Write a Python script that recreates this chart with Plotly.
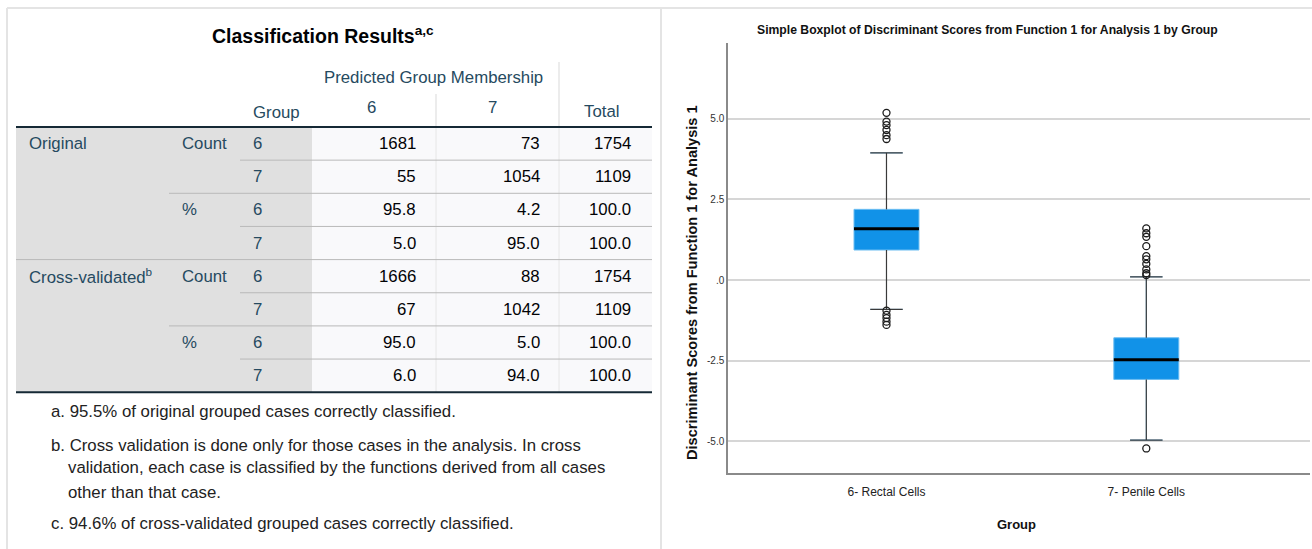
import plotly.graph_objects as go

# ---------------- data ----------------
# Classification table (rows: Original Count 6/7, Original % 6/7, Cross-validated Count 6/7, Cross-validated % 6/7)
row_groups = ["Original", "Cross-validated<sup>b</sup>"]
stat_labels = ["Count", "%"]
group_labels = ["6", "7"]
predicted_6 = [1681, 55, 95.8, 5.0, 1666, 67, 95.0, 6.0]
predicted_7 = [73, 1054, 4.2, 95.0, 88, 1042, 5.0, 94.0]
row_totals = [1754, 1109, 100.0, 100.0, 1754, 1109, 100.0, 100.0]
row_is_count = [True, True, False, False, True, True, False, False]

footnotes = [
    "a. 95.5% of original grouped cases correctly classified.",
    "b. Cross validation is done only for those cases in the analysis. In cross",
    "validation, each case is classified by the functions derived from all cases",
    "other than that case.",
    "c. 94.6% of cross-validated grouped cases correctly classified.",
]

# Boxplot summary statistics for discriminant scores (function 1)
box_groups = ["6- Rectal Cells", "7- Penile Cells"]
box_lowerfence = [-0.91, -4.96]
box_q1 = [0.93, -3.08]
box_median = [1.59, -2.47]
box_q3 = [2.19, -1.79]
box_upperfence = [3.94, 0.10]
outliers_rectal = [5.18, 4.91, 4.80, 4.65, 4.49, 4.37, -0.95, -1.08, -1.18, -1.29, -1.39]
outliers_penile = [1.60, 1.45, 1.34, 1.05, 0.74, 0.64, 0.50, 0.33, 0.21, 0.15, -5.22]
y_tickvals = [-5.0, -2.5, 0.0, 2.5, 5.0]
y_ticktext = ["-5.0", "-2.5", ".0", "2.5", "5.0"]

# ---------------- page geometry helpers ----------------
W, H = 1312, 549


def px(x):
    return x / W


def py(y):
    return 1 - y / H


FONT = "Liberation Sans, Arial, sans-serif"
LABEL_C = "#264A60"
DATA_C = "#010205"
TS = 16.8  # table font size

shapes = []
annotations = []


def rect(x0, y0, x1, y1, fill, line_w=0, line_c=None):
    shapes.append(dict(type="rect", xref="paper", yref="paper",
                       x0=px(x0), x1=px(x1), y0=py(y1), y1=py(y0),
                       fillcolor=fill, line=dict(width=line_w, color=line_c or fill),
                       layer="below"))


def hline(x0, x1, y, color, width=1):
    shapes.append(dict(type="line", xref="paper", yref="paper",
                       x0=px(x0), x1=px(x1), y0=py(y), y1=py(y),
                       line=dict(color=color, width=width), layer="below"))


def vline(x, y0, y1, color, width=1):
    shapes.append(dict(type="line", xref="paper", yref="paper",
                       x0=px(x), x1=px(x), y0=py(y0), y1=py(y1),
                       line=dict(color=color, width=width), layer="below"))


def text(x, y, s, size=TS, color=DATA_C, anchor="left", bold=False, family=FONT, angle=0):
    if bold:
        s = "<b>" + s + "</b>"
    annotations.append(dict(xref="paper", yref="paper", x=px(x), y=py(y), text=s,
                            showarrow=False, xanchor=anchor, yanchor="middle",
                            textangle=angle,
                            font=dict(family=family, size=size, color=color)))


# ---------------- panel frames ----------------
frame_c = "#e4e4e4"
hline(7, W, 8, frame_c, 2)
vline(7, 8, H, frame_c, 2)
vline(661, 8, H, frame_c, 2)

# ---------------- classification table ----------------
t_left, t_right = 16, 652
c_stat, c_group, c_data = 169, 240, 312
col_edges = [312, 436, 559, 652]
head_y, row_h = 127, 33.15
n_rows = len(predicted_6)
t_bottom = head_y + row_h * n_rows

rect(t_left, head_y, c_data, t_bottom, "#E0E0E0")
rect(c_data, head_y, t_right, t_bottom, "#F9F9FB")

# header separators
vline(col_edges[1], 94, head_y, "#E0E0E0", 1.2)
vline(col_edges[2], 62, head_y, "#E0E0E0", 1.2)
# data column separators
vline(col_edges[1], head_y, t_bottom, "#E6E6E6", 1)
vline(col_edges[2], head_y, t_bottom, "#E6E6E6", 1)

# row separators: depth of the break decides how far left the line reaches
for i in range(1, n_rows):
    yy = head_y + row_h * i
    if i % 4 == 0:
        start = t_left
    elif i % 2 == 0:
        start = c_stat
    else:
        start = c_group
    hline(start, t_right, yy, "#B9B9B9", 1)

hline(t_left, t_right, head_y, "#152935", 2)
hline(t_left, t_right, t_bottom, "#152935", 2)

# title and headers
text(323, 35, "Classification Results<sup>a,c</sup>", size=19.5, bold=True, anchor="center")
text(433, 78, "Predicted Group Membership", color=LABEL_C, anchor="center")
text(371, 107, group_labels[0], color=LABEL_C, anchor="center")
text(493, 107, group_labels[1], color=LABEL_C, anchor="center")
text(601, 111, "Total", color=LABEL_C, anchor="center")
text(251, 113, "Group", color=LABEL_C)

# body
for i in range(n_rows):
    yc = head_y + row_h * (i + 0.5)
    if i % 4 == 0:
        text(27, yc, row_groups[i // 4], color=LABEL_C)
    if i % 2 == 0:
        text(180, yc, stat_labels[(i // 2) % 2], color=LABEL_C)
    text(251, yc, group_labels[i % 2], color=LABEL_C)
    vals = [predicted_6[i], predicted_7[i], row_totals[i]]
    ends = [418, 542, 633]
    for v, e in zip(vals, ends):
        s = "{:d}".format(int(v)) if row_is_count[i] else "{:.1f}".format(v)
        text(e, yc, s, color=DATA_C, anchor="right")

# footnotes
foot_x = [49, 49, 66, 66, 49]
foot_y = [411, 445, 468, 492, 523]
for s, fx, fy in zip(footnotes, foot_x, foot_y):
    text(fx, fy, s, color="#222222")

# ---------------- boxplot ----------------
BOX_FILL = "#1192E8"
BOX_EDGE = "#6CBDF2"
box_w = 0.25
cap_w = box_w / 4
traces = []
for i, name in enumerate(box_groups):
    traces.append(go.Box(
        x=[i], q1=[box_q1[i]], median=[box_median[i]], q3=[box_q3[i]],
        lowerfence=[box_lowerfence[i]], upperfence=[box_upperfence[i]],
        width=box_w, whiskerwidth=0.5, boxpoints=False,
        fillcolor=BOX_FILL, line=dict(color=BOX_EDGE, width=1),
        name=name, showlegend=False, hoverinfo="skip",
        xaxis="x", yaxis="y"))

# whiskers and caps in dark grey
wx, wy = [], []
for i in range(len(box_groups)):
    wx += [i, i, None, i, i, None,
           i - cap_w, i + cap_w, None, i - cap_w, i + cap_w, None]
    wy += [box_q3[i], box_upperfence[i], None, box_q1[i], box_lowerfence[i], None,
           box_upperfence[i], box_upperfence[i], None, box_lowerfence[i], box_lowerfence[i], None]
traces.append(go.Scatter(x=wx, y=wy, mode="lines", line=dict(color="#3a3a3a", width=1.2),
                         showlegend=False, hoverinfo="skip"))

# medians
mx, my = [], []
for i in range(len(box_groups)):
    mx += [i - box_w / 2, i + box_w / 2, None]
    my += [box_median[i], box_median[i], None]
traces.append(go.Scatter(x=mx, y=my, mode="lines", line=dict(color="#000000", width=3),
                         showlegend=False, hoverinfo="skip"))

# outliers
ox = [0] * len(outliers_rectal) + [1] * len(outliers_penile)
oy = outliers_rectal + outliers_penile
traces.append(go.Scatter(x=ox, y=oy, mode="markers",
                         marker=dict(symbol="circle-open", size=7, color="#1a1a1a",
                                     line=dict(width=1.3, color="#1a1a1a")),
                         showlegend=False, hoverinfo="skip"))

fig = go.Figure(traces)

# chart texts
text(987, 30, "Simple Boxplot of Discriminant Scores from Function 1 for Analysis 1 by Group",
     size=12.2, bold=True, anchor="center", color="#111111")
text(692, 283, "Discriminant Scores from Function 1 for Analysis 1", size=14.6, bold=True,
     anchor="center", angle=-90, color="#111111")
text(1016, 524, "Group", size=13, bold=True, anchor="center", color="#111111")

fig.update_layout(
    width=W, height=H,
    margin=dict(l=0, r=0, t=0, b=0),
    paper_bgcolor="white", plot_bgcolor="white",
    shapes=shapes, annotations=annotations,
    xaxis=dict(domain=[px(728), px(1310)], range=[-0.61, 1.63],
               tickvals=list(range(len(box_groups))), ticktext=box_groups,
               showline=True, linecolor="#8a8a8a", linewidth=2,
               showgrid=False, zeroline=False, ticks="", ticklabelstandoff=7,
               tickfont=dict(family=FONT, size=12, color="#222222")),
    yaxis=dict(domain=[py(473), py(43)], range=[-5.98, 7.345],
               tickvals=y_tickvals, ticktext=y_ticktext,
               showline=True, linecolor="#8a8a8a", linewidth=1.5,
               showgrid=True, gridcolor="#d6d6d6", gridwidth=1.5,
               zeroline=False, ticks="",
               tickfont=dict(family=FONT, size=10, color="#333333")),
)

fig.write_html("out.html")
